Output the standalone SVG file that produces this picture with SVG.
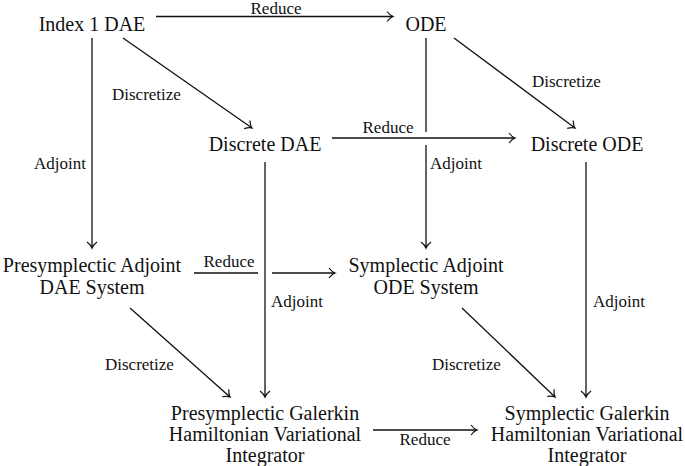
<svg xmlns="http://www.w3.org/2000/svg" width="685" height="466" viewBox="0 0 685 466">
<defs>
<marker id="arr" markerUnits="userSpaceOnUse" markerWidth="14" markerHeight="14" viewBox="-10 -7 14 14" refX="0" refY="0" orient="auto">
<path d="M-6 -5 Q-3 -1 0 0 Q-3 1 -6 5" fill="none" stroke="#111" stroke-width="1.2"/>
</marker>
<style>
.n{font-size:20px;fill:#111;text-anchor:middle}
.l{font-size:17px;fill:#111}
.c path{fill:none;stroke:#111;stroke-width:1.3}
.a{marker-end:url(#arr)}
</style>
</defs>
<rect width="685" height="466" fill="#fff"/>
<g id="connectors" class="c">
<path class="a" d="M156 16.5H393"/>
<path class="a" d="M92 38V248"/>
<path class="a" d="M123 38L252 128"/>
<path class="a" d="M454 38L575 128"/>
<path class="a" d="M426 38V132M426 145V248"/>
<path class="a" d="M332 138H515"/>
<path class="a" d="M265 162V397"/>
<path class="a" d="M586 162V397"/>
<path class="a" d="M194 273H258M272 273H335"/>
<path class="a" d="M130 308L230 397"/>
<path class="a" d="M462 308L555 397"/>
<path class="a" d="M373 430H477"/>
</g>
<g id="labels" font-family="Liberation Serif, Times New Roman, serif">
<text class="l" x="276" y="14" text-anchor="middle">Reduce</text>
<text class="l" x="112" y="100">Discretize</text>
<text class="l" x="532" y="87">Discretize</text>
<text class="l" x="388" y="133" text-anchor="middle">Reduce</text>
<text class="l" x="86" y="169" text-anchor="end">Adjoint</text>
<text class="l" x="430" y="169">Adjoint</text>
<text class="l" x="229" y="267" text-anchor="middle">Reduce</text>
<text class="l" x="271" y="307">Adjoint</text>
<text class="l" x="593" y="307">Adjoint</text>
<text class="l" x="105" y="370">Discretize</text>
<text class="l" x="432" y="370">Discretize</text>
<text class="l" x="425" y="445" text-anchor="middle">Reduce</text>
</g>
<g id="nodes" font-family="Liberation Serif, Times New Roman, serif">
<g id="index1dae"><text class="n" x="92" y="31">Index 1 DAE</text></g>
<g id="ode"><text class="n" x="426" y="31">ODE</text></g>
<g id="discretedae"><text class="n" x="265" y="151">Discrete DAE</text></g>
<g id="discreteode"><text class="n" x="587" y="151">Discrete ODE</text></g>
<g id="presympadj"><text class="n" x="92" y="272">Presymplectic Adjoint</text><text class="n" x="92" y="294">DAE System</text></g>
<g id="sympadj"><text class="n" x="426" y="272">Symplectic Adjoint</text><text class="n" x="426" y="294">ODE System</text></g>
<g id="presympgal"><text class="n" x="265" y="420">Presymplectic Galerkin</text><text class="n" x="265" y="441">Hamiltonian Variational</text><text class="n" x="265" y="462">Integrator</text></g>
<g id="sympgal"><text class="n" x="587" y="420">Symplectic Galerkin</text><text class="n" x="587" y="441">Hamiltonian Variational</text><text class="n" x="587" y="462">Integrator</text></g>
</g>
</svg>
